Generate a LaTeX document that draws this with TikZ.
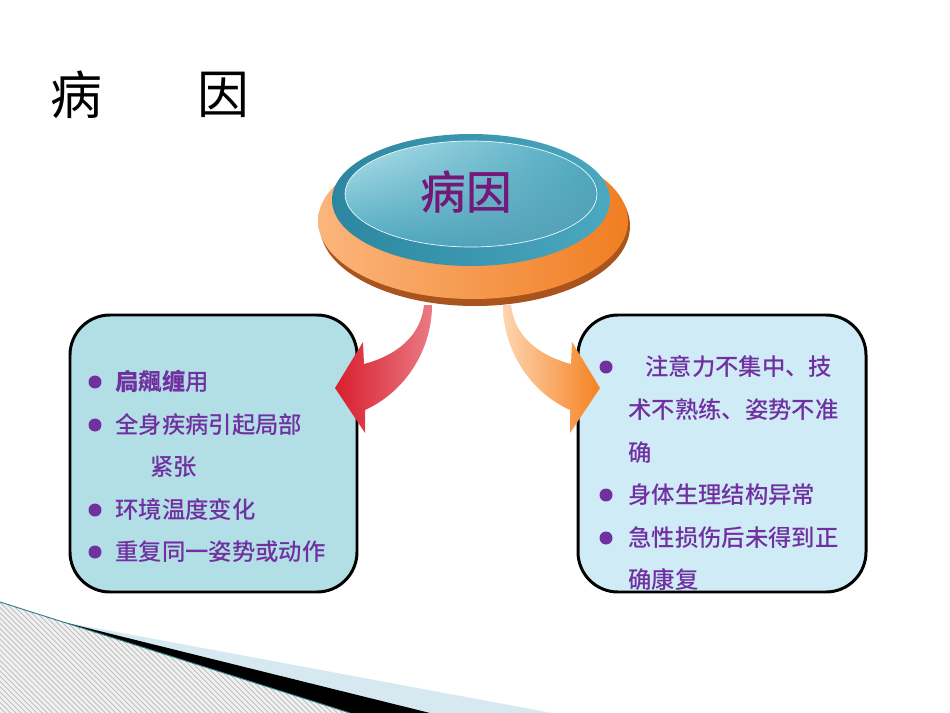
\documentclass[tikz,border=0pt]{standalone}
\usepackage{fontspec}
\usetikzlibrary{patterns, shadings}
\newfontfamily\cjk{Noto Sans CJK SC}[BoldFont={Noto Sans CJK SC Medium}]
\newfontfamily\cjkheavy{Noto Sans CJK SC Bold}
\definecolor{ItemPurple}{HTML}{7030A0}
\definecolor{TitlePurple}{HTML}{74197A}
\definecolor{BoxLeft}{HTML}{B2DEE6}
\definecolor{BoxRight}{HTML}{CFECF6}
\definecolor{TealDark}{HTML}{2C86A0}
\definecolor{TealMid}{HTML}{4AA8C0}
\definecolor{TealLight}{HTML}{B8E3EC}
\definecolor{OrangeLight}{HTML}{FBB57C}
\definecolor{OrangeDark}{HTML}{F07E22}
\definecolor{OrangeShadow}{HTML}{A9541C}
\definecolor{ArrowRed}{HTML}{D91E2D}
\definecolor{ArrowPink}{HTML}{E97B84}
\definecolor{ArrowPeach}{HTML}{FDD5B2}
\definecolor{ArrowOrange}{HTML}{F58220}
\definecolor{StripBlue}{HTML}{D6E9F0}
\definecolor{StripLine}{HTML}{2A7A8A}
\tikzset{
  causebox/.style={draw=black, line width=1.7pt, rounded corners=0.8cm},
  bullet/.style={circle, fill=ItemPurple, inner sep=0pt, minimum size=0.26cm},
  item/.style={anchor=west, inner sep=0pt, text=ItemPurple, font=\cjk\bfseries\fontsize{13.3}{16}\selectfont},
}
\begin{document}
\begin{tikzpicture}[x=0.02cm,y=-0.02cm]
\useasboundingbox[fill=white] (0,0) rectangle (950,713);

% title
\node[inner sep=0pt, font=\cjk\fontsize{29.5}{32}\selectfont] (ttlA) at (76,95) {病};
\node[inner sep=0pt, font=\cjk\fontsize{29.5}{32}\selectfont] (ttlB) at (223,95) {因};

% disc
\fill[OrangeShadow] (475,226) ellipse (155 and 80);
\shade[left color=OrangeLight, right color=OrangeDark] (473,221) ellipse (155 and 78);
\shade[left color=TealDark, right color=TealMid] (471,200) ellipse (139 and 66);
\shade[upper left=TealLight, upper right=TealMid, lower left=TealMid, lower right=TealDark!80] (471,194) ellipse (126 and 53);
\draw[white!70!TealLight, line width=0.4pt] (471,194) ellipse (126 and 53);
\node[inner sep=0pt, text=TitlePurple, font=\cjk\bfseries\fontsize{26}{28}\selectfont] (cause) at (466,192) {病因};

% boxes
\filldraw[causebox, fill=BoxLeft] (70,315) rectangle (357,592);
\filldraw[causebox, fill=BoxRight] (578,315) rectangle (866,592);

% arrows
\shade[left color=ArrowRed, right color=ArrowPink]
  (424,305) .. controls (421,335) and (398,355) .. (364,364)
  -- (363,342) -- (335,388) -- (365,433) -- (365,410)
  .. controls (405,392) and (432,350) .. (432,305) -- cycle;
\shade[left color=ArrowPeach, right color=ArrowOrange]
  (511,305) .. controls (514,335) and (537,355) .. (571,364)
  -- (572,342) -- (600,388) -- (570,433) -- (570,410)
  .. controls (530,392) and (503,350) .. (503,305) -- cycle;

% left list
\node[bullet] (l1) at (95,382) {};
\node[item] (lt1) at (115,382) {{\cjkheavy 扃飆缠}用};
\node[bullet] (l2) at (95,425) {};
\node[item] (lt2) at (115,425) {全身疾病引起局部};
\node[item] (lt2b) at (150,467) {紧张};
\node[bullet] (l3) at (95,510) {};
\node[item] (lt3) at (115,510) {环境温度变化};
\node[bullet] (l4) at (95,552) {};
\node[item] (lt4) at (115,552) {重复同一姿势或动作};

% right list
\node[bullet] (r1) at (606,367) {};
\node[item] (rt1) at (645,367) {注意力不集中、技};
\node[item] (rt1b) at (628,410) {术不熟练、姿势不准};
\node[item] (rt1c) at (628,453) {确};
\node[bullet] (r2) at (606,495) {};
\node[item] (rt2) at (628,495) {身体生理结构异常};
\node[bullet] (r3) at (606,538) {};
\node[item] (rt3) at (628,538) {急性损伤后未得到正};
\node[item] (rt3b) at (628,580) {确康复};

% corner strip
\fill[StripBlue] (63,622) -- (552,713) -- (350,713) -- cycle;
\fill[black] (63,622) -- (430,713) -- (350,713) -- cycle;
\fill[gray!12] (0,602) -- (350,713) -- (0,713) -- cycle;
\fill[pattern=north west lines, pattern color=gray!55] (0,602) -- (350,713) -- (0,713) -- cycle;
\draw[StripLine, line width=0.5pt] (0,602) -- (350,713);
\end{tikzpicture}
\end{document}
